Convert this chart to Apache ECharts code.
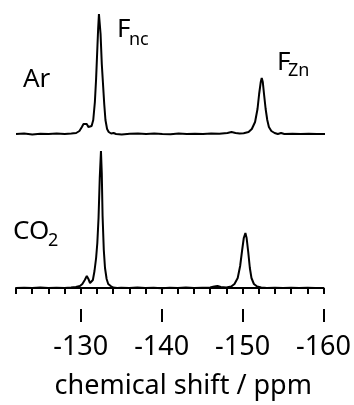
<!DOCTYPE html>
<html><head><meta charset="utf-8">
<script src="https://cdn.jsdelivr.net/npm/echarts@6/dist/echarts.min.js"></script>
<style>html,body{margin:0;padding:0;background:#fff}#c{width:354px;height:405px}</style>
</head><body><div id="c"></div>
<script>
// Ar spectrum: chemical shift (ppm) and intensity (a.u.)
const arShift = [-122,-123,-124,-125,-126,-127,-128,-128.8,-129.4,-129.8,-130.1,-130.3,-130.5,-130.7,-130.9,-131.1,-131.3,-131.5,-131.7,-131.85,-132,-132.1,-132.2,-132.25,-132.3,-132.4,-132.55,-132.7,-132.85,-133,-133.2,-133.4,-133.7,-134,-134.3,-135,-136,-137,-138,-139,-140,-141,-142,-143,-144,-145,-146,-147,-148,-148.5,-149,-149.5,-150,-150.6,-151,-151.4,-151.7,-151.9,-152.1,-152.22,-152.35,-152.5,-152.7,-152.9,-153.1,-153.4,-153.8,-154.2,-154.6,-155,-156,-157,-158,-159,-160];
const arIntensity = [0,0.5,-0.5,0.3,0,0.6,0,0.5,1,3,7,10,12,10,7,6,8,14,32,55,85,105,120,122,118,100,70,50,30,14,5,2,0.5,1,0,-0.5,0.3,0.5,0,0.4,0,-0.3,0.5,0,0.3,0,0.5,0.3,1,2,1,0.5,0.8,2,5,12,25,40,52,56,52,40,25,14,7,3,1,0,1,0,0.3,0,0.2,0,0];
// CO2 spectrum
const co2Shift = [-122,-123,-124,-125,-126,-127,-128,-128.8,-129.4,-129.9,-130.2,-130.5,-130.75,-130.95,-131.15,-131.3,-131.5,-131.7,-131.9,-132.05,-132.2,-132.35,-132.5,-132.6,-132.7,-132.85,-133,-133.2,-133.4,-133.7,-134,-134.5,-135,-136,-137,-138,-139,-140,-141,-142,-143,-144,-145,-146,-146.5,-146.9,-147.3,-148,-148.6,-149,-149.4,-149.7,-149.95,-150.15,-150.35,-150.5,-150.7,-150.9,-151.1,-151.4,-151.8,-152.3,-153,-154,-155,-156,-157,-158,-159,-160];
const co2Intensity = [0,0.3,0,0.4,0,0.3,0,0.5,1,2,4,8,12,9,5,5,8,17,30,45,70,110,137,115,72,38,20,9,4,2,0.5,0,0.3,0,0.4,0,0.3,-0.3,0.3,0,0.4,0,0.3,0.5,1.5,2,1,0.5,1.5,4,10,22,38,50,55,50,36,20,10,4,1.5,0.5,0,0.3,0,0.3,0,0.2,0,0];
const tickValues = [-130,-140,-150,-160];
const axisTitle = 'chemical shift / ppm';

const zip = (xs, ys) => xs.map((x, i) => [x, ys[i]]);
const FONT = '"Noto Sans", "Open Sans", sans-serif';
const chart = echarts.init(document.getElementById('c'), null, {renderer: 'canvas'});
const xBase = {type: 'value', min: -160, max: -122, inverse: true, splitLine: {show: false}};
const lineStyle = {color: '#000', width: 2};
chart.setOption({
  animation: false,
  backgroundColor: '#fff',
  grid: [
    {left: 16, right: 29, top: 4, bottom: 266},
    {left: 16, right: 29, top: 148, bottom: 112}
  ],
  xAxis: [
    Object.assign({}, xBase, {gridIndex: 0, show: false}),
    Object.assign({}, xBase, {gridIndex: 1, position: 'bottom', offset: 16, interval: 2,
      axisLine: {show: true, lineStyle: {color: '#000', width: 2}},
      axisTick: {show: true, length: 6, lineStyle: {color: '#000', width: 2}},
      axisLabel: {show: false}}),
    Object.assign({}, xBase, {gridIndex: 1, position: 'bottom', offset: 16, interval: 10,
      axisLine: {show: false},
      axisTick: {show: true, length: 13, customValues: tickValues, lineStyle: {color: '#000', width: 2}},
      axisLabel: {show: true, customValues: tickValues, margin: 25, color: '#000', fontSize: 27, fontFamily: FONT},
      name: axisTitle, nameLocation: 'middle', nameGap: 64,
      nameTextStyle: {color: '#000', fontSize: 27, fontFamily: FONT, padding: [0, 0, 0, 27]}})
  ],
  yAxis: [
    {type: 'value', gridIndex: 0, min: -5, max: 130, show: false},
    {type: 'value', gridIndex: 1, min: -5, max: 140, show: false}
  ],
  series: [
    {type: 'line', xAxisIndex: 0, yAxisIndex: 0, data: zip(arShift, arIntensity), showSymbol: false, lineStyle: lineStyle, clip: false},
    {type: 'line', xAxisIndex: 1, yAxisIndex: 1, data: zip(co2Shift, co2Intensity), showSymbol: false, lineStyle: lineStyle, clip: false}
  ],
  graphic: [
    {type: 'text', style: {text: 'Ar', x: 23, y: 80, font: '26px ' + FONT, fill: '#000', textVerticalAlign: 'middle'}},
    {type: 'text', style: {text: 'F', x: 117, y: 30, font: '26px ' + FONT, fill: '#000', textVerticalAlign: 'middle'}},
    {type: 'text', style: {text: 'nc', x: 129, y: 40, font: '18px ' + FONT, fill: '#000', textVerticalAlign: 'middle'}},
    {type: 'text', style: {text: 'F', x: 277, y: 63, font: '26px ' + FONT, fill: '#000', textVerticalAlign: 'middle'}},
    {type: 'text', style: {text: 'Zn', x: 288, y: 71, font: '18px ' + FONT, fill: '#000', textVerticalAlign: 'middle'}},
    {type: 'text', style: {text: 'CO', x: 13, y: 232, font: '26px ' + FONT, fill: '#000', textVerticalAlign: 'middle'}},
    {type: 'text', style: {text: '2', x: 48, y: 241, font: '18px ' + FONT, fill: '#000', textVerticalAlign: 'middle'}}
  ]
});
</script>
</body></html>
